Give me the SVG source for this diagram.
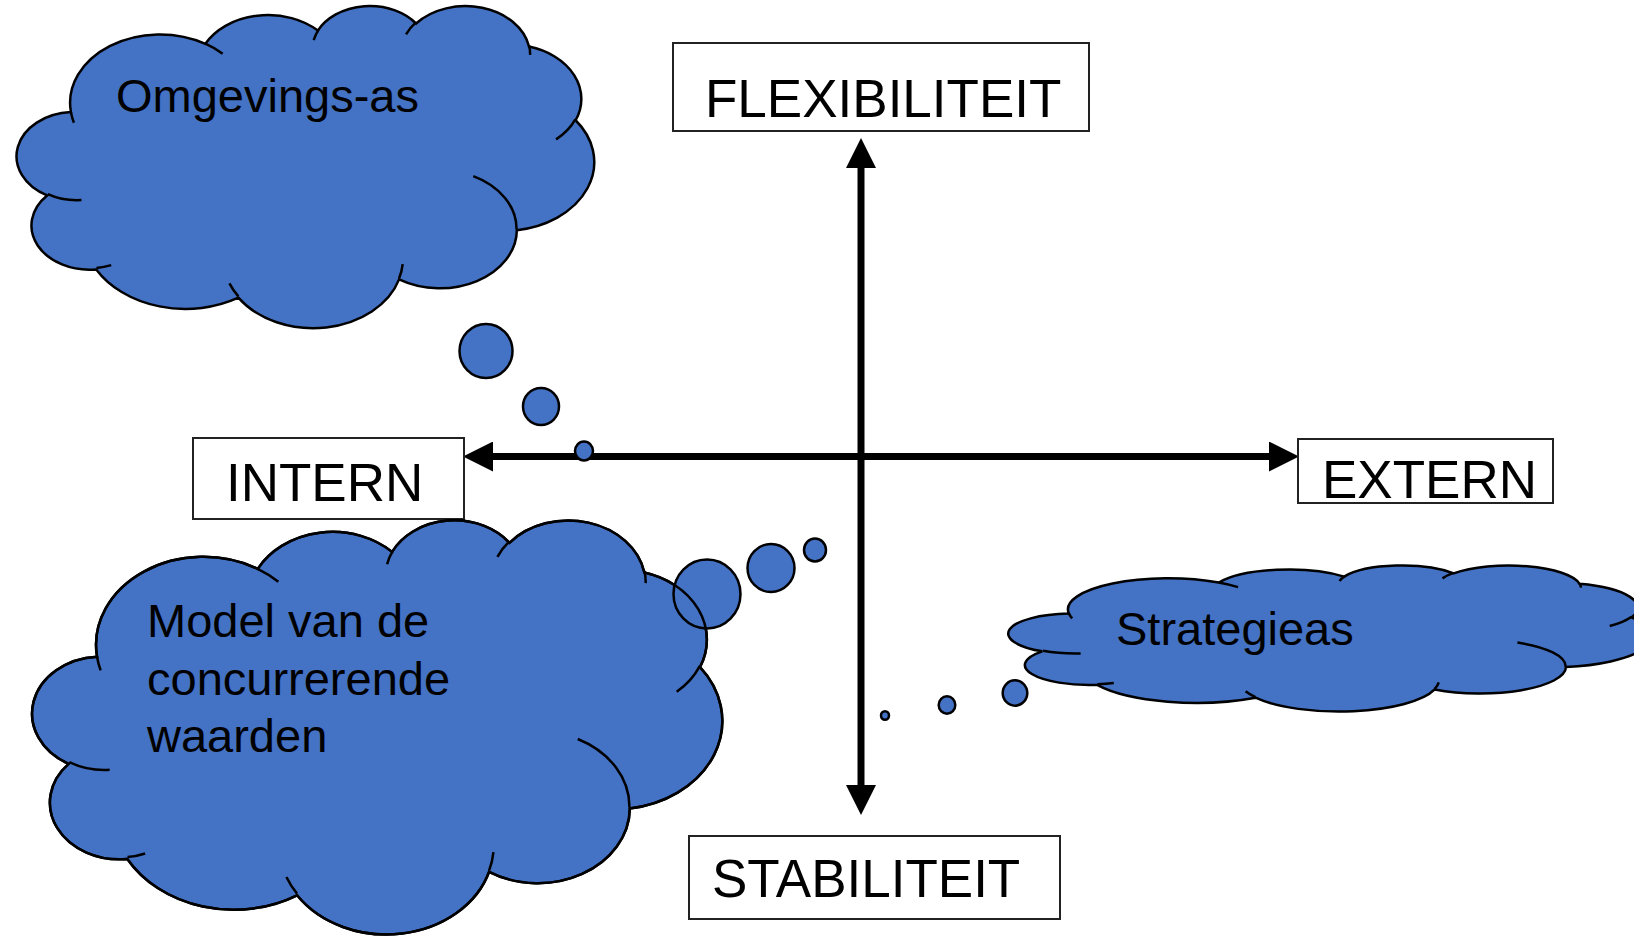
<svg xmlns="http://www.w3.org/2000/svg" xmlns:xlink="http://www.w3.org/1999/xlink" width="1634" height="937" viewBox="0 0 1634 937">
<style>
.lbl{font-family:"Liberation Sans",Arial,sans-serif;font-size:53px;fill:#000}
.ctx{font-family:"Liberation Sans",Arial,sans-serif;font-size:47px;fill:#000}
.box{fill:#fff;stroke:#222;stroke-width:2}
.cloud{fill:#4472C4;stroke:#000;stroke-width:2.5}
.inner{fill:none;stroke:#000;stroke-width:2.5}
.bub{fill:#4472C4;stroke:#000;stroke-width:2.5}
.axis{fill:none;stroke:#000;stroke-width:7}
</style>
<defs>
<path id="cloudOutline" vector-effect="non-scaling-stroke" d="M9.028 33.264 A15.632 21.273 0 0 1 32.419 12.042 A12.345 16.822 0 0 1 51.979 7.944 A10.104 13.762 0 0 1 69.058 5.743 A11.243 15.266 0 0 1 88.697 12.910 A12.345 16.836 0 0 1 96.801 35.789 A15.683 21.343 0 0 1 86.583 69.917 A13.391 18.211 0 0 1 66.102 85.218 A15.630 21.331 0 0 1 38.148 90.891 A17.870 24.405 0 0 1 13.435 82.106 A10.093 13.699 0 0 1 4.889 59.141 A10.058 13.762 0 0 1 9.028 33.264 Z"/>
<path id="cloudInner" vector-effect="non-scaling-stroke" d="M10.863 60.595 A10.058 13.762 0 0 1 5.0 58.75 M16.037 80.785 A10.093 13.699 0 0 1 13.472 81.667 M38.144 90.486 A15.630 21.331 0 0 1 36.597 86.456 M66.729 80.442 A15.630 21.331 0 0 1 66.111 84.861 M79.002 53.134 A13.391 18.211 0 0 1 86.530 69.653 M96.755 35.542 A12.345 16.836 0 0 1 93.403 41.736 M88.713 12.560 A11.243 15.266 0 0 1 88.889 15.486 M67.310 9.148 A11.243 15.266 0 0 1 69.028 5.417 M51.252 10.926 A10.104 13.762 0 0 1 52.083 7.708 M32.407 12.019 A15.632 21.273 0 0 1 35.419 15.141 M9.553 36.549 A15.632 21.273 0 0 1 9.028 33.264"/>
<marker id="arr" markerUnits="userSpaceOnUse" markerWidth="30" markerHeight="30" refX="0" refY="14.5" orient="auto-start-reverse" viewBox="0 0 29 29">
<path d="M0 0 L29 14.5 L0 29 Z" fill="#000"/>
</marker>
</defs>

<g id="connectors">
<line class="axis" x1="861" y1="168" x2="861" y2="785" marker-start="url(#arr)" marker-end="url(#arr)"/>
<line class="axis" x1="493" y1="456.5" x2="1269" y2="456.5" marker-start="url(#arr)" marker-end="url(#arr)"/>
</g>

<g id="flexibiliteit">
<rect class="box" x="673" y="43" width="416" height="88"/>
<text class="lbl" x="705" y="117">FLEXIBILITEIT</text>
</g>
<g id="stabiliteit">
<rect class="box" x="689" y="836" width="371" height="83"/>
<text class="lbl" x="712" y="897">STABILITEIT</text>
</g>
<g id="intern">
<rect class="box" x="193" y="438" width="271" height="81"/>
<text class="lbl" x="226" y="501">INTERN</text>
</g>
<g id="extern">
<rect class="box" x="1298" y="439" width="255" height="64"/>
<text class="lbl" x="1322" y="498">EXTERN</text>
</g>

<g id="omgevings-as">
<g transform="translate(19,5) scale(5.75,3.22)">
<use xlink:href="#cloudOutline" class="cloud"/>
<use xlink:href="#cloudInner" class="inner"/>
</g>
<ellipse class="bub" cx="486" cy="351" rx="26.5" ry="27"/>
<ellipse class="bub" cx="541" cy="406.5" rx="18" ry="18.5"/>
<ellipse class="bub" cx="584" cy="451" rx="9" ry="9.5"/>
<text class="ctx" x="116" y="112">Omgevings-as</text>
</g>

<g id="model">
<g transform="translate(35,519) scale(6.87,4.14)">
<use xlink:href="#cloudOutline" class="cloud"/>
</g>
<ellipse class="bub" cx="707" cy="594" rx="33.5" ry="34.5"/>
<ellipse class="bub" cx="771" cy="568" rx="23.5" ry="24"/>
<ellipse class="bub" cx="815" cy="550" rx="11" ry="11.5"/>
<g transform="translate(35,519) scale(6.87,4.14)">
<use xlink:href="#cloudOutline" class="inner"/>
<use xlink:href="#cloudInner" class="inner"/>
</g>
<text class="ctx" x="147" y="637">Model van de</text>
<text class="ctx" x="147" y="695">concurrerende</text>
<text class="ctx" x="147" y="752">waarden</text>
</g>

<g id="strategieas">
<g transform="translate(1011,565) scale(6.41,1.46)">
<use xlink:href="#cloudOutline" class="cloud"/>
<use xlink:href="#cloudInner" class="inner"/>
</g>
<ellipse class="bub" cx="1015" cy="693" rx="12.3" ry="12.7"/>
<ellipse class="bub" cx="947" cy="705" rx="8.3" ry="8.7"/>
<ellipse class="bub" cx="885" cy="715.5" rx="4" ry="4.3"/>
<text class="ctx" x="1116" y="645">Strategieas</text>
</g>
</svg>
